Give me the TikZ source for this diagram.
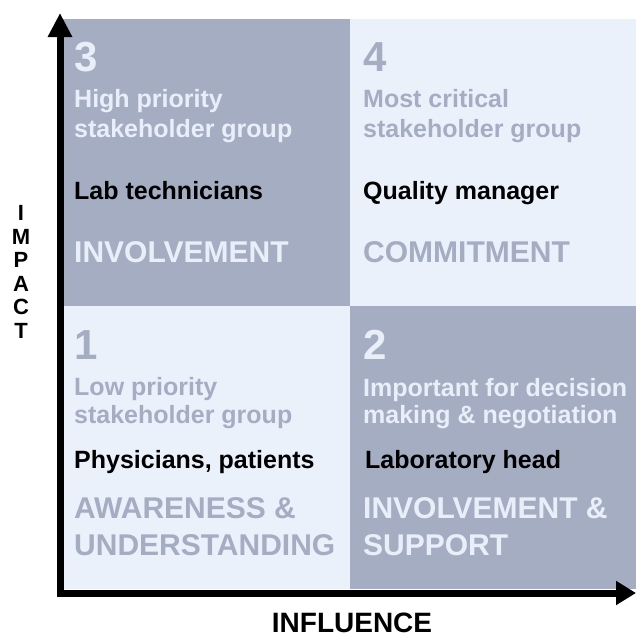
\documentclass[tikz,border=0pt]{standalone}
\usepackage{fontspec}
\setmainfont{Liberation Sans}
\usetikzlibrary{arrows.meta}
\definecolor{quaddark}{HTML}{A5ADC3}
\definecolor{quadlight}{HTML}{EBF1FB}
\definecolor{textpale}{HTML}{E9EFF9}
\tikzset{
    numlabel/.style={anchor=base west, inner sep=0pt, font=\bfseries\fontsize{42}{42}\selectfont},
    grouplabel/.style={anchor=base west, inner sep=0pt, align=left, font=\bfseries\fontsize{25}{#1}\selectfont},
    namelabel/.style={anchor=base west, inner sep=0pt, font=\bfseries\fontsize{25}{30}\selectfont},
    actionlabel/.style={anchor=base west, inner sep=0pt, align=left, font=\bfseries\fontsize{30}{37}\selectfont},
    axislabel/.style={inner sep=0pt, align=center, font=\bfseries\fontsize{#1}{23.6}\selectfont}
}
\begin{document}
\begin{tikzpicture}[x=1pt,y=-1pt]
    \useasboundingbox (0,0) rectangle (636,637);

    % Draw the quadrants
    \foreach \x/\y/\c in {63/19/quaddark, 350/19/quadlight, 63/306/quadlight, 350/306/quaddark} {
        \fill[\c] (\x,\y) rectangle ++(286.5,{\y==19 ? 287 : 283});
    }

    % Draw axes with arrows
    \coordinate (origin) at (60,593);
    \coordinate (ytip) at (60,13);
    \coordinate (xtip) at (636,593);
    \draw[line width=7pt, line join=miter, {Triangle[width=23pt,length=24pt]}-{Triangle[width=23pt,length=20pt]}]
        (ytip) -- (origin) -- (xtip);

    % Quadrant 3 (base of multi-line nodes = last line)
    \node[numlabel, textpale] (num3) at (74,71) {3};
    \node[grouplabel=30, textpale] (group3) at (74,137) {High priority\\stakeholder group};
    \node[namelabel] (name3) at (74,199) {Lab technicians};
    \node[actionlabel, textpale] (act3) at (74,262) {INVOLVEMENT};

    % Quadrant 4
    \node[numlabel, quaddark] (num4) at (363,71) {4};
    \node[grouplabel=30, quaddark] (group4) at (363,137) {Most critical\\stakeholder group};
    \node[namelabel] (name4) at (363,199) {Quality manager};
    \node[actionlabel, quaddark] (act4) at (363,262) {COMMITMENT};

    % Quadrant 1
    \node[numlabel, quaddark] (num1) at (74,359) {1};
    \node[grouplabel=28, quaddark] (group1) at (74,423) {Low priority\\stakeholder group};
    \node[namelabel] (name1) at (74,468) {Physicians, patients};
    \node[actionlabel, quaddark] (act1) at (74,555) {AWARENESS \&\\UNDERSTANDING};

    % Quadrant 2
    \node[numlabel, textpale] (num2) at (363,359) {2};
    \node[grouplabel=27, textpale] (group2) at (363,423) {Important for decision\\making \& negotiation};
    \node[namelabel] (name2) at (365,468) {Laboratory head};
    \node[actionlabel, textpale] (act2) at (363,555) {INVOLVEMENT \&\\SUPPORT};

    % Axis titles
    \node[axislabel=28, anchor=base] (influence) at (352,632) {INFLUENCE};
    \node[axislabel=22] (impact) at (21,272) {I\\M\\P\\A\\C\\T};
\end{tikzpicture}
\end{document}
